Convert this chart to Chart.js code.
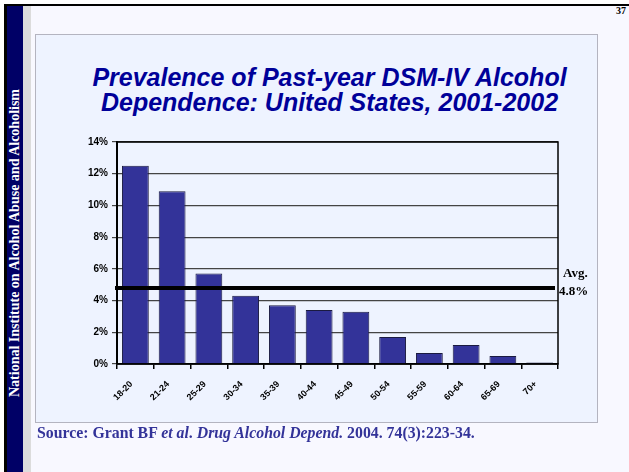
<!DOCTYPE html>
<html>
<head>
<meta charset="utf-8">
<script src="https://cdn.jsdelivr.net/npm/chart.js@4.4.1/dist/chart.umd.min.js"></script>
<style>
  body { margin: 0; background: #fff; }
  #slide { position: relative; width: 629px; height: 472px; background: #fff; overflow: hidden; font-family: "Liberation Sans", Arial, sans-serif; }
  .page { position: absolute; left: 7px; top: 6px; right: 0; bottom: 0; background: #f8f8ff; }
  .topline { position: absolute; left: 4px; right: 0; top: 4px; height: 2px; background: #000; }
  .leftline { position: absolute; left: 4px; width: 3px; top: 4px; bottom: 0; background: #000; }
  .sidebar { position: absolute; left: 7px; width: 16px; top: 6px; bottom: 0; background: #000066; }
  .strip { position: absolute; left: 23px; width: 8px; top: 6px; bottom: 0; background: #dcdcdc; }
  .sidetext { position: absolute; left: 15px; top: 243px; transform: translate(-50%, -50%) rotate(-90deg);
    white-space: nowrap; color: #fff; font: bold 14px "Liberation Serif", "Times New Roman", serif; }
  .pagenum { position: absolute; right: 3px; top: 5px; font: bold 10px "Liberation Serif", serif; color: #000; }
  .panel { position: absolute; left: 35px; top: 34px; width: 561px; height: 387px; background: #eef3ff; border: 1px solid #b4b4c0; }
  .title { position: absolute; left: 48px; width: 563px; top: 65px; text-align: center; color: #000099;
    font: bold italic 25px "Liberation Sans", Arial, sans-serif; line-height: 25px; }
  .source { position: absolute; left: 37px; top: 424px; color: #333399; font: bold 15.8px "Liberation Serif", "Times New Roman", serif; }
  canvas { position: absolute; left: 0; top: 0; }
</style>
</head>
<body>
<div id="slide">
  <div class="page"></div>
  <div class="topline"></div>
  <div class="leftline"></div>
  <div class="sidebar"></div>
  <div class="strip"></div>
  <div class="sidetext">National Institute on Alcohol Abuse and Alcoholism</div>
  <div class="pagenum">37</div>
  <div class="panel"></div>
  <div class="title">Prevalence of Past-year DSM-IV Alcohol<br>Dependence: United States, 2001-2002</div>
  <canvas id="chart" width="629" height="472"></canvas>
  <div class="source">Source: Grant BF <i>et al</i>. <i>Drug Alcohol Depend.</i> 2004. 74(3):223-34.</div>
</div>
<script>
const ageGroups = ['18-20', '21-24', '25-29', '30-34', '35-39', '40-44', '45-49', '50-54', '55-59', '60-64', '65-69', '70+'];
const prevalence = [12.5, 10.9, 5.7, 4.3, 3.7, 3.4, 3.3, 1.7, 0.7, 1.2, 0.5, 0.1];
const yTicks = [0, 2, 4, 6, 8, 10, 12, 14];
const averageRate = 4.8;

// box around the plot, plus the thick average line and its label
const frameAndAverage = {
  id: 'frameAndAverage',
  afterDatasetsDraw(chart) {
    const { ctx, chartArea: a, scales: { y } } = chart;
    ctx.save();
    ctx.strokeStyle = '#000';
    ctx.lineWidth = 1.5;
    ctx.strokeRect(a.left, a.top, a.right - a.left, a.bottom - a.top);

    const yAvg = y.getPixelForValue(averageRate);
    ctx.lineWidth = 4;
    ctx.beginPath();
    ctx.moveTo(a.left - 2, yAvg);
    ctx.lineTo(a.right - 3, yAvg);
    ctx.stroke();

    ctx.fillStyle = '#000';
    ctx.font = 'bold 13px "Liberation Serif", "Times New Roman", serif';
    ctx.textBaseline = 'middle';
    ctx.textAlign = 'left';
    ctx.fillText('Avg.', a.right + 5, yAvg - 14);
    ctx.fillText(averageRate + '%', a.right + 1, yAvg + 4);
    ctx.restore();
  }
};

new Chart(document.getElementById('chart'), {
  type: 'bar',
  data: {
    labels: ageGroups,
    datasets: [{
      data: prevalence,
      backgroundColor: '#333399',
      borderColor: '#1a1a40',
      borderWidth: 1,
      categoryPercentage: 1,
      barPercentage: 0.73
    }]
  },
  options: {
    responsive: false,
    animation: false,
    layout: { padding: { left: 0, top: 142, right: 71, bottom: 0 } },
    plugins: { legend: { display: false }, tooltip: { enabled: false } },
    scales: {
      x: {
        afterFit: (scale) => { scale.height = 108; },
        grid: { offset: true, drawOnChartArea: false, drawTicks: true, tickLength: 5, color: '#000', lineWidth: 1.5 },
        border: { color: '#000', width: 1.5 },
        ticks: {
          maxRotation: 45, minRotation: 45, padding: 10, labelOffset: -4, color: '#000',
          font: { family: '"Liberation Sans", Arial, sans-serif', size: 9, weight: 'bold' }
        }
      },
      y: {
        min: 0,
        max: 14,
        afterFit: (scale) => { scale.width = 117; },
        afterBuildTicks: (scale) => { scale.ticks = yTicks.map(v => ({ value: v })); },
        grid: { color: '#444', lineWidth: 1.2, tickLength: 5 },
        border: { color: '#000', width: 2 },
        ticks: {
          padding: 4, color: '#000',
          font: { family: '"Liberation Sans", Arial, sans-serif', size: 10, weight: 'bold' },
          callback: (v) => v + '%'
        }
      }
    }
  },
  plugins: [frameAndAverage]
});
</script>
</body>
</html>
